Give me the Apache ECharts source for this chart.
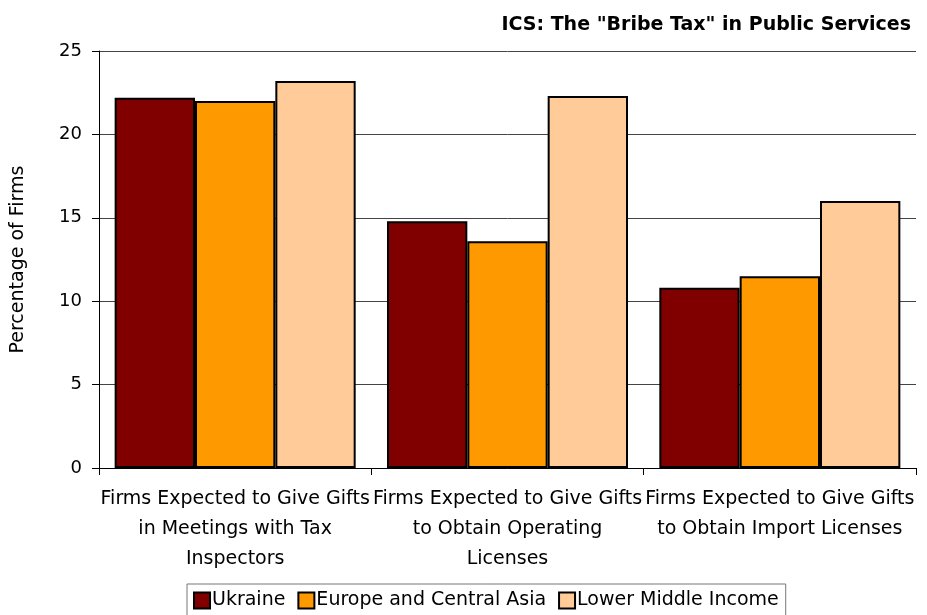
<!DOCTYPE html>
<html>
<head>
<meta charset="utf-8">
<script src="https://cdn.jsdelivr.net/npm/echarts@6/dist/echarts.min.js"></script>
<style>
  html, body { margin: 0; padding: 0; background: #fff; }
  #chart1 { width: 927px; height: 615px; }
</style>
</head>
<body>
<div id="chart1"></div>
<script>
// categories on the x axis
var categories = [
    'Firms Expected to Give Gifts\nin Meetings with Tax\nInspectors',
    'Firms Expected to Give Gifts\nto Obtain Operating\nLicenses',
    'Firms Expected to Give Gifts\nto Obtain Import Licenses'
];
// series values (percentage of firms)
var ukraine = [22.2, 14.8, 10.8];
var europeCentralAsia = [22.0, 13.6, 11.5];
var lowerMiddleIncome = [23.2, 22.3, 16.0];
var seriesNames = ['Ukraine', 'Europe and Central Asia', 'Lower Middle Income'];
var seriesColors = ['#800000', '#FF9900', '#FFCC99'];

var font = 'DejaVu Sans';

let dom1 = document.getElementById('chart1');
let Chart1 = echarts.init(dom1);

function makeSeries(name, data, color) {
    return {
        name: name,
        type: 'bar',
        data: data,
        barGap: '0%',
        barCategoryGap: '11.5%',
        itemStyle: {
            color: color,
            borderColor: '#000',
            borderWidth: 2
        }
    };
}

let option1 = {
    animation: false,
    backgroundColor: '#fff',
    title: {
        text: 'ICS: The "Bribe Tax" in Public Services',
        right: 11,
        top: 11,
        textStyle: {
            fontFamily: font,
            fontSize: 19,
            fontWeight: 'bold',
            color: '#000'
        }
    },
    color: seriesColors,
    legend: {
        data: seriesNames,
        top: 584,
        left: 187,
        itemWidth: 16,
        itemHeight: 16,
        itemGap: 12,
        padding: [7, 7, 8, 6],
        borderColor: '#777',
        borderWidth: 1,
        icon: 'rect',
        itemStyle: { borderColor: '#000', borderWidth: 2 },
        textStyle: {
            fontFamily: font,
            fontSize: 19,
            color: '#000',
            padding: [0, 0, 0, -3]
        }
    },
    grid: {
        left: 99,
        right: 11,
        top: 51,
        bottom: 147,
        outerBoundsMode: 'none'
    },
    xAxis: {
        type: 'category',
        data: categories,
        axisLine: { lineStyle: { color: '#000', width: 1 } },
        axisTick: { show: true, length: 7, lineStyle: { color: '#000' } },
        axisLabel: {
            interval: 0,
            margin: 16,
            lineHeight: 30,
            fontFamily: font,
            fontSize: 19,
            color: '#000'
        }
    },
    yAxis: {
        type: 'value',
        min: 0,
        max: 25,
        interval: 5,
        name: 'Percentage of Firms',
        nameLocation: 'middle',
        nameGap: 71,
        nameTextStyle: {
            fontFamily: font,
            fontSize: 19,
            color: '#000'
        },
        axisLine: { show: true, lineStyle: { color: '#000', width: 1 } },
        axisTick: { show: true, length: 7, lineStyle: { color: '#000' } },
        axisLabel: {
            margin: 17,
            fontFamily: font,
            fontSize: 18,
            color: '#000'
        },
        splitLine: {
            show: true,
            lineStyle: { color: '#444', width: 1 }
        }
    },
    series: [
        makeSeries(seriesNames[0], ukraine, seriesColors[0]),
        makeSeries(seriesNames[1], europeCentralAsia, seriesColors[1]),
        makeSeries(seriesNames[2], lowerMiddleIncome, seriesColors[2])
    ]
};

Chart1.setOption(option1);
</script>
</body>
</html>
